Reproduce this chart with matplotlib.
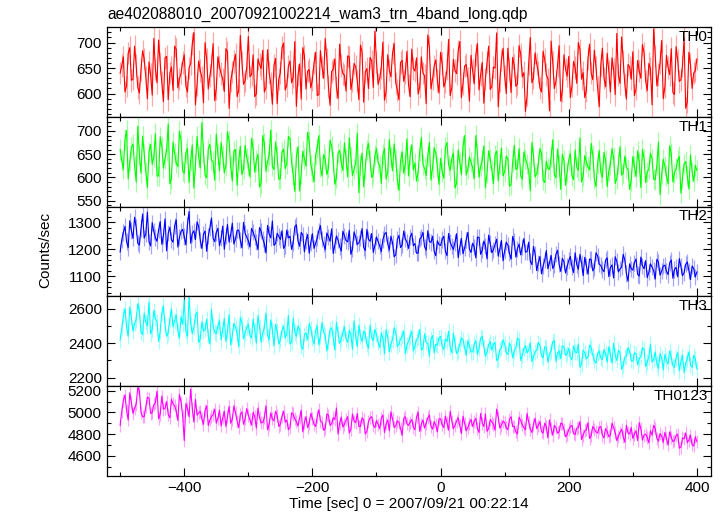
import numpy as np
import matplotlib
matplotlib.use("Agg")
import matplotlib.pyplot as plt
from matplotlib.ticker import MultipleLocator

plt.rcParams['font.family'] = ['Liberation Sans', 'DejaVu Sans']
plt.rcParams['font.size'] = 11

title = "ae402088010_20070921002214_wam3_trn_4band_long.qdp"
xlabel = "Time [sec] 0 = 2007/09/21 00:22:14"
ylabel = "Counts/sec"

# bins at -500, -495, ... 400 (set a) and -497.5, ..., 397.5 (set b)
time_a = np.arange(-500, 400 + 5, 5)
time_b = np.arange(-497.5, 400, 5)

names = ["TH0", "TH1", "TH2", "TH3", "TH0123"]
colors = ["#ff0000", "#00ff00", "#0000ff", "#00ffff", "#ff00ff"]
errors = [22, 22, 30, 45, 60]

th0_a = [640, 672, 615, 690, 628, 655, 601, 684, 633, 662,
         597, 648, 705, 622, 670, 588, 652, 693, 611, 640,
         676, 603, 659, 720, 618, 645, 582, 667, 635, 698,
         610, 654, 629, 688, 571, 642, 677, 606, 661, 625,
         712, 637, 594, 668, 649, 603, 686, 620, 655, 580,
         641, 699, 616, 664, 632, 575, 658, 690, 609, 647,
         627, 681, 598, 652, 708, 614, 643, 668, 590, 655,
         636, 674, 608, 659, 625, 695, 583, 649, 671, 612,
         662, 630, 701, 604, 646, 679, 621, 588, 665, 640,
         617, 687, 644, 599, 672, 635, 715, 609, 654, 626,
         681, 613, 648, 596, 667, 639, 702, 620, 657, 585,
         645, 676, 607, 661, 629, 693, 614, 650, 574, 666,
         634, 689, 602, 655, 619, 678, 641, 597, 710, 631,
         658, 611, 683, 637, 566, 662, 624, 694, 606, 648,
         673, 615, 651, 700, 628, 592, 669, 640, 685, 612,
         656, 631, 679, 603, 647, 718, 620, 663, 589, 652,
         682, 609, 644, 696, 625, 659, 578, 674, 637, 704,
         613, 651, 688, 598, 666, 627, 709, 583, 657, 640,
         668]
th0_b = [655, 603, 679, 626, 693, 612, 647, 668, 590, 637,
         708, 621, 659, 584, 673, 640, 606, 687, 629, 661,
         615, 650, 697, 578, 664, 632, 700, 609, 656, 586,
         672, 639, 604, 682, 625, 663, 594, 714, 618, 651,
         633, 676, 599, 657, 685, 612, 641, 579, 669, 628,
         690, 607, 653, 621, 702, 636, 589, 674, 644, 611,
         660, 596, 684, 630, 667, 577, 648, 613, 697, 639,
         605, 672, 626, 653, 588, 681, 642, 610, 664, 722,
         618, 651, 587, 676, 633, 698, 607, 661, 624, 683,
         594, 649, 670, 613, 640, 580, 690, 628, 666, 601,
         659, 623, 706, 611, 645, 684, 592, 654, 631, 675,
         619, 698, 637, 581, 662, 608, 652, 719, 626, 689,
         600, 647, 671, 614, 694, 633, 565, 659, 621, 680,
         642, 603, 667, 629, 703, 610, 655, 585, 676, 634,
         592, 663, 620, 686, 641, 606, 697, 627, 651, 574,
         689, 613, 644, 670, 598, 636, 711, 618, 657, 628,
         596, 665, 630, 680, 606, 649, 727, 615, 661, 590,
         675, 637, 602, 692, 624, 654, 571, 681, 610, 645]

th1_a = [660, 618, 701, 635, 672, 590, 648, 689, 612, 655,
         628, 694, 603, 667, 640, 715, 598, 651, 623, 680,
         609, 662, 636, 577, 688, 620, 654, 599, 671, 633,
         693, 614, 647, 625, 678, 592, 660, 637, 606, 669,
         627, 684, 611, 650, 588, 673, 634, 702, 617, 645,
         598, 661, 629, 683, 605, 644, 571, 656, 624, 677,
         612, 648, 690, 603, 639, 620, 668, 585, 652, 631,
         674, 601, 643, 618, 695, 627, 580, 659, 636, 607,
         662, 625, 649, 596, 681, 614, 640, 572, 655, 628,
         603, 670, 631, 612, 686, 619, 646, 594, 664, 623,
         641, 598, 675, 615, 652, 587, 633, 668, 605, 644,
         621, 690, 600, 637, 578, 657, 616, 648, 593, 663,
         612, 640, 584, 669, 620, 603, 655, 629, 571, 646,
         608, 662, 594, 635, 617, 681, 599, 626, 650, 583,
         638, 604, 659, 615, 590, 647, 622, 673, 596, 630,
         611, 654, 580, 627, 643, 598, 666, 609, 621, 574,
         645, 602, 633, 660, 589, 618, 640, 595, 676, 607,
         624, 586, 651, 610, 637, 566, 629, 603, 648, 592,
         615]
th1_b = [636, 682, 597, 664, 625, 710, 609, 650, 578, 671,
         644, 603, 687, 620, 658, 586, 676, 631, 699, 614,
         653, 589, 670, 628, 645, 718, 605, 661, 637, 594,
         649, 675, 610, 698, 623, 657, 583, 667, 618, 642,
         601, 660, 636, 579, 690, 613, 648, 624, 676, 596,
         655, 619, 688, 632, 570, 666, 608, 641, 697, 627,
         590, 663, 622, 649, 606, 680, 634, 599, 658, 615,
         640, 685, 604, 630, 567, 652, 619, 673, 600, 647,
         632, 587, 662, 611, 644, 672, 596, 635, 609, 683,
         648, 616, 592, 657, 628, 604, 675, 621, 652, 585,
         612, 664, 627, 641, 577, 659, 606, 690, 618, 633,
         597, 651, 624, 668, 610, 639, 586, 657, 629, 603,
         646, 581, 633, 617, 662, 596, 640, 613, 675, 601,
         628, 652, 589, 619, 644, 607, 661, 574, 636, 612,
         651, 595, 622, 685, 603, 634, 616, 648, 580, 658,
         600, 637, 614, 662, 587, 629, 605, 646, 618, 593,
         623, 657, 578, 641, 611, 652, 596, 627, 563, 639,
         604, 668, 590, 619, 645, 598, 634, 575, 612, 626]

th2_a = [1190, 1262, 1228, 1305, 1240, 1281, 1215, 1330, 1256, 1227,
         1298, 1243, 1271, 1218, 1312, 1259, 1235, 1286, 1208, 1266,
         1247, 1290, 1222, 1268, 1301, 1233, 1255, 1192, 1279, 1240,
         1262, 1213, 1285, 1249, 1226, 1296, 1238, 1270, 1205, 1258,
         1231, 1277, 1245, 1199, 1266, 1220, 1288, 1242, 1214, 1259,
         1236, 1203, 1271, 1248, 1224, 1290, 1211, 1253, 1232, 1185,
         1257, 1221, 1268, 1239, 1198, 1246, 1275, 1216, 1233, 1193,
         1250, 1227, 1181, 1264, 1218, 1241, 1206, 1273, 1229, 1188,
         1245, 1212, 1236, 1262, 1197, 1224, 1179, 1251, 1215, 1238,
         1203, 1259, 1221, 1186, 1244, 1209, 1268, 1225, 1192, 1231,
         1214, 1248, 1176, 1226, 1199, 1257, 1208, 1183, 1235, 1201,
         1222, 1168, 1243, 1196, 1213, 1252, 1187, 1218, 1174, 1232,
         1194, 1215, 1163, 1228, 1202, 1179, 1239, 1191, 1156, 1210,
         1121, 1173, 1138, 1195, 1150, 1129, 1182, 1144, 1166, 1112,
         1158, 1135, 1187, 1126, 1149, 1170, 1108, 1162, 1131, 1176,
         1140, 1117, 1168, 1132, 1094, 1155, 1127, 1181, 1110, 1146,
         1123, 1164, 1101, 1139, 1158, 1115, 1134, 1090, 1152, 1119,
         1141, 1106, 1160, 1125, 1098, 1137, 1113, 1153, 1088, 1129,
         1116]
th2_b = [1235, 1284, 1206, 1269, 1318, 1222, 1276, 1241, 1337, 1212,
         1265, 1229, 1302, 1250, 1194, 1281, 1226, 1308, 1244, 1273,
         1216, 1339, 1258, 1236, 1284, 1203, 1267, 1248, 1315, 1228,
         1277, 1240, 1200, 1291, 1255, 1219, 1270, 1233, 1299, 1245,
         1208, 1263, 1227, 1280, 1239, 1186, 1256, 1304, 1221, 1247,
         1268, 1214, 1242, 1199, 1283, 1230, 1262, 1190, 1254, 1225,
         1203, 1240, 1287, 1219, 1260, 1229, 1184, 1249, 1210, 1266,
         1232, 1270, 1201, 1245, 1223, 1276, 1195, 1237, 1258, 1214,
         1229, 1191, 1255, 1220, 1248, 1172, 1236, 1206, 1267, 1227,
         1244, 1213, 1185, 1238, 1262, 1196, 1229, 1248, 1176, 1217,
         1236, 1193, 1258, 1211, 1225, 1169, 1240, 1205, 1262, 1188,
         1209, 1245, 1181, 1230, 1164, 1221, 1198, 1237, 1202, 1157,
         1226, 1185, 1247, 1171, 1219, 1208, 1189, 1226, 1143, 1183,
         1150, 1109, 1160, 1128, 1177, 1141, 1196, 1118, 1154, 1136,
         1173, 1114, 1143, 1181, 1102, 1139, 1164, 1120, 1187, 1145,
         1125, 1160, 1099, 1142, 1172, 1116, 1134, 1160, 1082, 1128,
         1150, 1107, 1171, 1128, 1095, 1146, 1121, 1163, 1104, 1138,
         1119, 1150, 1093, 1133, 1165, 1102, 1144, 1120, 1138, 1098]

th3_a = [2420, 2560, 2495, 2610, 2470, 2535, 2585, 2450, 2520, 2640,
         2480, 2545, 2410, 2575, 2505, 2460, 2600, 2530, 2475, 2555,
         2650, 2440, 2515, 2490, 2580, 2425, 2470, 2540, 2395, 2500,
         2455, 2530, 2480, 2410, 2565, 2445, 2495, 2380, 2520, 2460,
         2510, 2430, 2475, 2560, 2405, 2490, 2445, 2535, 2385, 2470,
         2420, 2500, 2455, 2395, 2545, 2440, 2480, 2365, 2460, 2515,
         2430, 2475, 2390, 2520, 2445, 2410, 2490, 2360, 2455, 2425,
         2495, 2405, 2450, 2530, 2380, 2440, 2470, 2395, 2505, 2415,
         2450, 2375, 2430, 2480, 2350, 2420, 2465, 2395, 2440, 2340,
         2410, 2470, 2385, 2435, 2360, 2455, 2400, 2425, 2345, 2390,
         2440, 2365, 2410, 2375, 2460, 2340, 2395, 2420, 2330, 2385,
         2350, 2415, 2370, 2440, 2325, 2390, 2360, 2405, 2310, 2375,
         2395, 2335, 2380, 2355, 2430, 2300, 2370, 2345, 2400, 2320,
         2360, 2390, 2315, 2375, 2340, 2410, 2295, 2355, 2385, 2330,
         2370, 2305, 2350, 2395, 2280, 2345, 2320, 2375, 2300, 2340,
         2315, 2365, 2290, 2335, 2400, 2300, 2345, 2270, 2325, 2355,
         2295, 2340, 2310, 2375, 2265, 2320, 2290, 2350, 2255, 2315,
         2335, 2280, 2320, 2260, 2345, 2295, 2230, 2310, 2275, 2330,
         2250]
th3_b = [2485, 2600, 2440, 2550, 2515, 2630, 2465, 2575, 2500, 2455,
         2590, 2525, 2470, 2615, 2440, 2540, 2495, 2565, 2430, 2510,
         2470, 2670, 2455, 2560, 2405, 2525, 2480, 2445, 2595, 2465,
         2500, 2420, 2545, 2470, 2390, 2515, 2460, 2550, 2425, 2490,
         2445, 2540, 2400, 2495, 2460, 2575, 2420, 2480, 2510, 2395,
         2475, 2430, 2560, 2405, 2465, 2500, 2380, 2450, 2420, 2485,
         2395, 2500, 2440, 2465, 2355, 2480, 2430, 2520, 2400, 2460,
         2425, 2475, 2365, 2440, 2505, 2410, 2455, 2370, 2430, 2480,
         2405, 2460, 2340, 2435, 2395, 2490, 2380, 2425, 2470, 2390,
         2440, 2355, 2420, 2480, 2370, 2405, 2325, 2445, 2395, 2430,
         2380, 2425, 2470, 2345, 2400, 2355, 2430, 2375, 2415, 2350,
         2395, 2335, 2430, 2380, 2350, 2410, 2395, 2300, 2365, 2420,
         2345, 2400, 2315, 2375, 2420, 2330, 2385, 2360, 2295, 2350,
         2405, 2325, 2380, 2290, 2355, 2415, 2345, 2310, 2380, 2340,
         2320, 2385, 2345, 2260, 2360, 2310, 2390, 2330, 2285, 2355,
         2305, 2340, 2380, 2285, 2330, 2360, 2250, 2320, 2375, 2300,
         2345, 2275, 2325, 2365, 2290, 2395, 2305, 2280, 2340, 2245,
         2300, 2355, 2270, 2315, 2240, 2330, 2285, 2350, 2260, 2310]

th0123_a = [4880, 5110, 5020, 5180, 4990, 5075, 5200, 4960, 5050, 5130,
            5000, 5090, 4940, 5150, 5035, 4980, 5120, 5060, 4925, 5095,
            4740, 5040, 5215, 4910, 4975, 5010, 4890, 5060, 4930, 4980,
            4900, 5020, 4950, 4870, 5055, 4935, 4995, 4860, 5005, 4940,
            4975, 4885, 4960, 5040, 4905, 4950, 4840, 4995, 4920, 4970,
            4890, 5010, 4930, 4860, 4985, 4915, 4950, 4820, 4960, 4900,
            4945, 4870, 5025, 4910, 4850, 4975, 4895, 4935, 4800, 4955,
            4890, 4960, 4845, 4920, 4990, 4870, 4930, 4825, 4950, 4880,
            4925, 4850, 4975, 4895, 4830, 4940, 4875, 4910, 4790, 4960,
            4880, 4935, 4840, 5000, 4890, 4855, 4950, 4870, 4915, 4820,
            4940, 4860, 4905, 5010, 4850, 4920, 4875, 4965, 4830, 4900,
            4870, 4945, 4815, 4900, 4985, 4850, 4910, 4835, 4955, 4880,
            4905, 4840, 4960, 4870, 4800, 4925, 4860, 4990, 4845, 4890,
            4850, 4915, 4810, 4870, 4930, 4790, 4860, 4820, 4895, 4775,
            4840, 4880, 4795, 4860, 4750, 4830, 4905, 4785, 4845, 4810,
            4870, 4765, 4825, 4790, 4860, 4740, 4815, 4775, 4880, 4800,
            4760, 4830, 4905, 4745, 4800, 4720, 4790, 4850, 4735, 4780,
            4815, 4700, 4770, 4740, 4800, 4680, 4755, 4720, 4790, 4690,
            4730]
th0123_b = [5010, 5160, 4930, 5090, 5040, 5230, 5000, 4960, 5140, 4990,
            5070, 5195, 4985, 5030, 5100, 4950, 5080, 5015, 5165, 4970,
            5080, 4960, 5040, 5120, 4995, 4940, 5020, 4880, 4960, 5030,
            4945, 4875, 5010, 4960, 4900, 5060, 4920, 4980, 4890, 5035,
            4930, 5000, 4855, 4950, 4905, 5060, 4890, 4940, 5010, 4870,
            4965, 4910, 4840, 4995, 4940, 4875, 5020, 4905, 4860, 4990,
            4890, 4960, 4920, 4835, 4985, 4880, 4950, 5040, 4900, 4865,
            4930, 4810, 4985, 4905, 4870, 4950, 4800, 4915, 4960, 4860,
            4890, 4945, 4815, 4930, 5005, 4860, 4920, 4850, 4945, 4895,
            4910, 4865, 4960, 4825, 4930, 4900, 4975, 4845, 4885, 4940,
            4885, 4965, 4835, 4920, 4880, 4950, 4805, 4900, 4860, 4935,
            4915, 4850, 4990, 4870, 4825, 4935, 4890, 5030, 4855, 4920,
            4860, 4935, 4870, 4820, 4955, 4885, 4840, 4910, 4815, 4945,
            4880, 4820, 4900, 4765, 4850, 4880, 4810, 4900, 4845, 4795,
            4870, 4805, 4855, 4915, 4790, 4840, 4760, 4870, 4820, 4860,
            4790, 4850, 4775, 4900, 4815, 4780, 4845, 4725, 4810, 4860,
            4800, 4740, 4850, 4790, 4770, 4830, 4880, 4760, 4805, 4725,
            4760, 4820, 4730, 4785, 4670, 4765, 4810, 4745, 4700, 4775]

series_a = [th0_a, th1_a, th2_a, th3_a, th0123_a]
series_b = [th0_b, th1_b, th2_b, th3_b, th0123_b]
ylims = [(554, 730), (537, 730), (1026, 1357), (2152, 2672), (4416, 5243)]
major = [50, 50, 100, 200, 200]
minor = [10, 10, 20, 100, 100]

W, H = 723, 516
fig = plt.figure(figsize=(W / 100, H / 100), dpi=100)

left, right = 106.7 / W, 711.0 / W
top, bottom = 1 - 27.3 / H, 1 - 475.7 / H
ph = (top - bottom) / 5

t_all = np.concatenate([time_a, time_b])
order = np.argsort(t_all)
t_all = t_all[order]

axes = []
for i in range(5):
    ax = fig.add_axes([left, top - (i + 1) * ph, right - left, ph])
    y = np.concatenate([np.array(series_a[i], float),
                        np.array(series_b[i], float)])[order]
    ax.errorbar(t_all, y, yerr=errors[i], fmt='none', ecolor=colors[i],
                elinewidth=0.9, alpha=0.35, capsize=0)
    ax.plot(t_all, y, color=colors[i], lw=0.8)
    ax.set_xlim(-521, 422)
    ax.set_ylim(*ylims[i])
    ax.yaxis.set_major_locator(MultipleLocator(major[i]))
    ax.yaxis.set_minor_locator(MultipleLocator(minor[i]))
    ax.xaxis.set_major_locator(MultipleLocator(200))
    ax.xaxis.set_minor_locator(MultipleLocator(100))
    ax.tick_params(which='both', direction='in', top=True, right=True,
                   labelsize=11, width=0.8)
    ax.tick_params(which='major', length=6)
    ax.tick_params(which='minor', length=3)
    for s in ax.spines.values():
        s.set_linewidth(0.9)
    if i < 4:
        ax.tick_params(labelbottom=False)
    ax.text(0.995, 0.97, names[i], transform=ax.transAxes, ha='right',
            va='top', fontsize=11)
    axes.append(ax)

axes[-1].set_xlabel(xlabel, fontsize=11, labelpad=2)
fig.text(45 / W, 1 - 250 / H, ylabel, rotation=90, ha='center', va='center',
         fontsize=11)
fig.text(107 / W, 1 - 14 / H, title, ha='left', va='center', fontsize=11.2)

fig.savefig("out.png", dpi=100)
